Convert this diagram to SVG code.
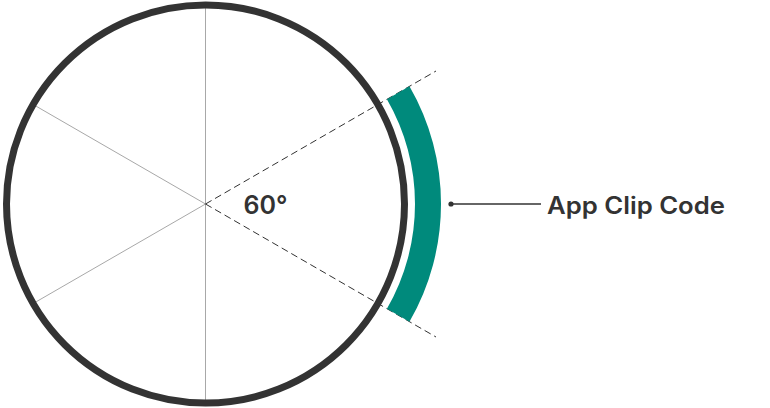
<svg xmlns="http://www.w3.org/2000/svg" width="770" height="408" viewBox="0 0 770 408">
  <style>
    .spoke { stroke: #a8a8a8; stroke-width: 1; fill: none; }
    .dash { stroke: #333333; stroke-width: 1; stroke-dasharray: 7 4; fill: none; }
    .ring { stroke: #333333; stroke-width: 7; fill: none; }
    .label { font-family: Inter, "Liberation Sans", sans-serif; fill: #333333; font-weight: 600; }
    .conn { stroke: #333333; stroke-width: 1.5; fill: none; }
  </style>
  <rect width="770" height="408" fill="#ffffff"/>
  <g id="circle">
    <line class="spoke" x1="205.5" y1="5" x2="205.5" y2="403"/>
    <line class="spoke" x1="205.5" y1="204" x2="33.2" y2="104.5"/>
    <line class="spoke" x1="205.5" y1="204" x2="33.2" y2="303.5"/>
    <line class="dash" x1="205.5" y1="204" x2="436" y2="71"/>
    <line class="dash" x1="205.5" y1="204" x2="436" y2="337"/>
    <circle class="ring" cx="205.5" cy="204" r="199"/>
  </g>
  <g id="angle-label">
    <text class="label" x="243.5" y="214" font-size="25" textLength="44" lengthAdjust="spacingAndGlyphs">60°</text>
  </g>
  <g id="app-clip-code-arc">
    <path d="M409.45,86.25 A235.5,235.5 0 0 1 409.45,321.75 L386.93,308.75 A209.5,209.5 0 0 0 386.93,99.25 Z" fill="#008a7c"/>
  </g>
  <g id="connectors">
    <circle cx="451" cy="204" r="2.6" fill="#333333"/>
    <line class="conn" x1="451" y1="204" x2="541" y2="204"/>
  </g>
  <g id="app-clip-code-label">
    <text class="label" x="547" y="214" font-size="24" textLength="178" lengthAdjust="spacingAndGlyphs">App Clip Code</text>
  </g>
</svg>
